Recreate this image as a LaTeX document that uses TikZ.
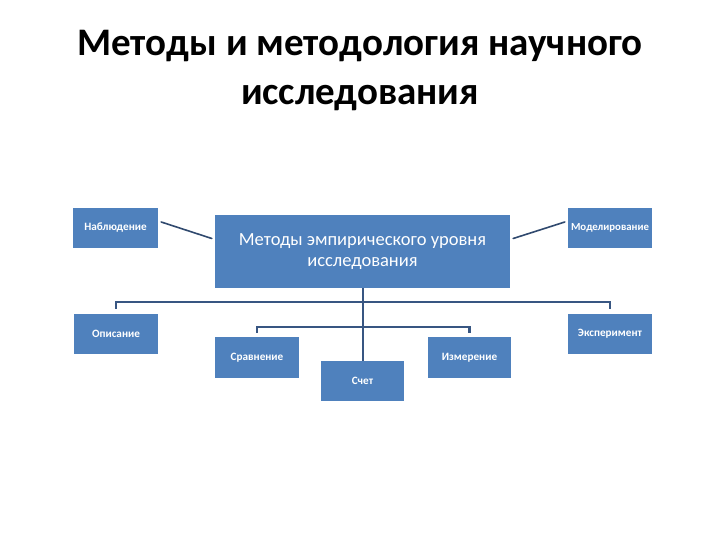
\documentclass[tikz,border=0pt]{standalone}
\usepackage{fontspec}
\setmainfont{Carlito}
\usepackage{tikz}
\definecolor{boxblue}{RGB}{79,129,189}
\definecolor{linkblue}{RGB}{56,86,130}

\begin{document}
\begin{tikzpicture}[x=1pt, y=-1pt,
		box/.style={draw=none, fill=boxblue, text=white, inner sep=0pt, minimum width=84pt, minimum height=40pt, font=\fontsize{11.2}{13}\selectfont\bfseries},
		bus/.style={draw=linkblue, line width=2.6pt},
		side/.style={draw=linkblue!85!black, line width=1.6pt, line cap=round}]
			
			\useasboundingbox (0,0) rectangle (720,540);
			
			\node[anchor=base, font=\fontsize{39}{47}\selectfont\bfseries] (title1) at (360,56) {Методы и методология научного};
			\node[anchor=base, font=\fontsize{39}{47}\selectfont\bfseries] (title2) at (360,105) {исследования};
			
			\node[box, minimum width=295pt, minimum height=73pt, align=center, font=\fontsize{18.5}{21.5}\selectfont] (main) at (362.5,251.5) {Методы эмпирического уровня\\исследования};
			
			\node[box, minimum width=85pt] (nabl) at (115.5,228) {Наблюдение};
			\node[box, font=\fontsize{10.8}{13}\selectfont\bfseries] (model) at (610,228) {Моделирование};
			\node[box] (opis) at (116,334) {Описание};
			\node[box] (eksp) at (610,334) {Эксперимент};
			\node[box, minimum height=41pt] (sravn) at (257,357.5) {Сравнение};
			\node[box, minimum width=83pt, minimum height=41pt] (izmer) at (469.5,357.5) {Измерение};
			\node[box, minimum width=83pt] (schet) at (362.5,381) {Счет};
			
			\coordinate (bus1) at (0,302);
			\coordinate (bus2) at (0,327);
			
			\draw[bus] ([yshift=5pt]opis.north) -- (opis.north |- bus1) -- (eksp.north |- bus1) -- ([yshift=5pt]eksp.north);
			\draw[bus] ([yshift=4pt]sravn.north) -- (sravn.north |- bus2) -- (izmer.north |- bus2) -- ([yshift=4pt]izmer.north);
			\draw[bus, line width=2pt] (main.south) -- (schet.north);
			
			\draw[side] ([xshift=3pt, yshift=6pt]nabl.east) -- ([xshift=-3pt, yshift=13pt]main.west);
			\draw[side] ([xshift=-3pt, yshift=6pt]model.west) -- ([xshift=3pt, yshift=13pt]main.east);
			
		\end{tikzpicture}
\end{document}
